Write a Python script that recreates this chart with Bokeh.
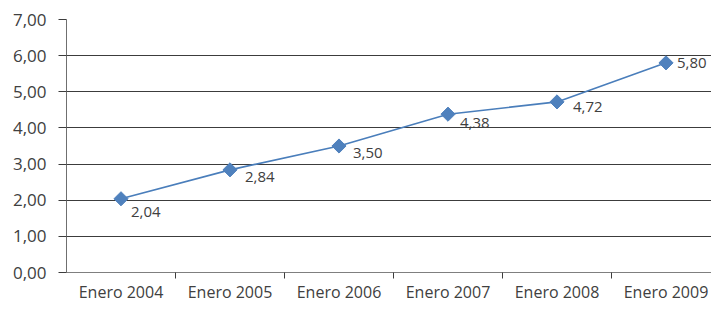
import math
from bokeh.plotting import figure
from bokeh.models import FixedTicker, ColumnDataSource, Range1d
from bokeh.core.properties import value
from bokeh.embed import file_html
from bokeh.resources import INLINE

categories = ["Enero 2004", "Enero 2005", "Enero 2006", "Enero 2007", "Enero 2008", "Enero 2009"]
values = [2.04, 2.84, 3.50, 4.38, 4.72, 5.80]
value_labels = ["2,04", "2,84", "3,50", "4,38", "4,72", "5,80"]
y_ticks = [0, 1, 2, 3, 4, 5, 6, 7]
y_tick_labels = ["0,00", "1,00", "2,00", "3,00", "4,00", "5,00", "6,00", "7,00"]

# label offsets in screen pixels (style)
label_dx = [10, 15, 14, 12, 16, 11]
label_dy = [13, 7, 7, 9, 5, 0]

FONT = "Open Sans"
TEXT = "#404040"
GRID = "#3c3c3c"
LINE = "#4a7ebb"
MARK = "#4f81bd"

W, H = 711, 305
LEFT, TOP, BOTTOM = 66, 19, 30
px_per_cat = 109.0
frame_w = W - LEFT
x_end = frame_w / px_per_cat

p = figure(width=W, height=H, output_backend="svg", toolbar_location=None,
           x_range=Range1d(0, x_end), y_range=Range1d(0, 7),
           min_border_left=LEFT, min_border_right=0, min_border_top=TOP,
           min_border_bottom=BOTTOM)
p.outline_line_color = None
p.background_fill_color = "white"
p.border_fill_color = "white"

xs = [i + 0.5 for i in range(len(categories))]
src = ColumnDataSource(dict(x=xs, y=values, lab=value_labels, dx=label_dx, dy=label_dy))

# x axis
xa = p.xaxis[0]
xa.ticker = FixedTicker(ticks=xs, minor_ticks=[i for i in range(1, len(categories))])
xa.major_label_overrides = {x: c for x, c in zip(xs, categories)}
xa.major_tick_out = 0
xa.major_tick_in = 0
xa.minor_tick_out = 6
xa.minor_tick_in = 0
xa.minor_tick_line_color = GRID
xa.axis_line_color = "#7f7f7f"
xa.major_label_text_font = FONT
xa.major_label_text_font_size = "16px"
xa.major_label_text_color = TEXT
xa.major_label_standoff = 2

# y axis
ya = p.yaxis[0]
ya.ticker = FixedTicker(ticks=y_ticks)
ya.major_label_overrides = {t: l for t, l in zip(y_ticks, y_tick_labels)}
ya.major_tick_out = 8
ya.major_tick_in = 0
ya.major_tick_line_color = GRID
ya.minor_tick_line_color = None
ya.axis_line_color = "#6f6f6f"
ya.major_label_text_font = FONT
ya.major_label_text_font_size = "17px"
ya.major_label_text_color = TEXT
ya.major_label_standoff = 12

p.xgrid.grid_line_color = None
p.ygrid.ticker = FixedTicker(ticks=y_ticks)
p.ygrid.grid_line_color = GRID
p.ygrid.grid_line_width = 1

p.line("x", "y", source=src, line_color=LINE, line_width=1.6)
p.scatter("x", "y", source=src, marker="square", angle=math.pi / 4, size=10,
          fill_color=MARK, line_color=MARK)
p.text("x", "y", text="lab", source=src, x_offset="dx", y_offset="dy",
       text_font=value(FONT), text_font_size="15px", text_color=TEXT,
       text_baseline="middle", text_align="left")

open("out.html", "w").write(file_html(p, INLINE))
